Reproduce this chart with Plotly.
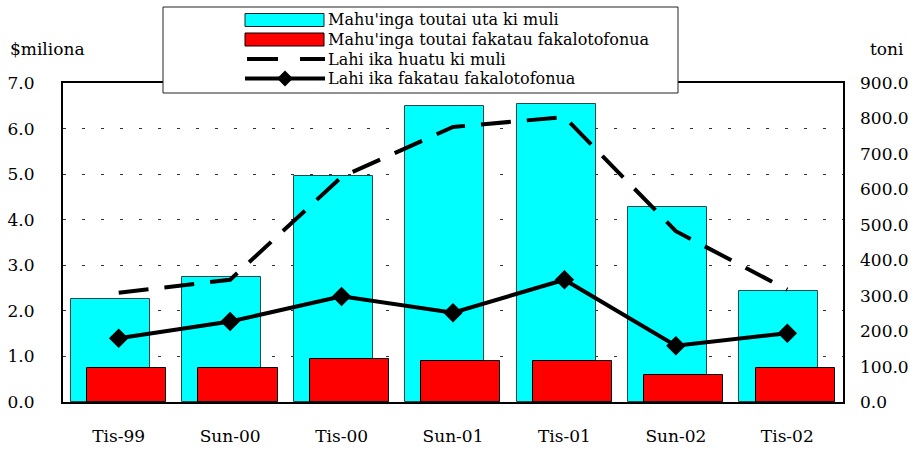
import plotly.graph_objects as go

categories = ["Tis-99", "Sun-00", "Tis-00", "Sun-01", "Tis-01", "Sun-02", "Tis-02"]
uta_ki_muli = [2.26, 2.74, 4.96, 6.50, 6.55, 4.28, 2.43]
fakatau_fakalotofonua = [0.75, 0.74, 0.94, 0.90, 0.89, 0.60, 0.75]
lahi_huatu = [308, 345, 635, 776, 804, 482, 317]
lahi_fakatau = [180, 227, 298, 252, 345, 159, 194]

legend_names = ["Mahu'inga toutai uta ki muli", "Mahu'inga toutai fakatau fakalotofonua",
                "Lahi ika huatu ki muli", "Lahi ika fakatau fakalotofonua"]
left_ticks = [0, 1, 2, 3, 4, 5, 6, 7]
right_ticks = [0, 100, 200, 300, 400, 500, 600, 700, 800, 900]

FONT = "DejaVu Serif, Liberation Serif, serif"
TICK = 17
W, H = 909, 451
ML, MR, MT, MB = 63, 66, 83, 49
PW, PH = W - ML - MR, H - MT - MB

fig = go.Figure()
fig.add_bar(x=categories, y=uta_ki_muli, name=legend_names[0], width=0.71, offset=-0.43,
            marker=dict(color="#00FFFF", line=dict(color="#2a4a4a", width=1)), yaxis="y")
fig.add_bar(x=categories, y=fakatau_fakalotofonua, name=legend_names[1], width=0.71, offset=-0.285,
            marker=dict(color="#FF0000", line=dict(color="#000000", width=1)), yaxis="y")
fig.add_scatter(x=categories, y=lahi_huatu, name=legend_names[2], mode="lines",
                line=dict(color="black", width=4, dash="30px,16px"), yaxis="y2")
fig.add_scatter(x=categories, y=lahi_fakatau, name=legend_names[3], mode="lines+markers",
                line=dict(color="black", width=4),
                marker=dict(symbol="diamond", size=15, color="black"), yaxis="y2")


def px(x):
    return (x - ML) / PW


def py(y):
    return (H - MB - y) / PH


shapes = []
annotations = []
# legend box
shapes.append(dict(type="rect", xref="paper", yref="paper", x0=px(163), x1=px(678), y0=py(93), y1=py(7),
                   fillcolor="white", line=dict(color="#222", width=1), layer="above"))
rows = [20, 39.5, 59, 78.5]
shapes.append(dict(type="rect", xref="paper", yref="paper", x0=px(245), x1=px(324), y0=py(rows[0] + 6.5),
                   y1=py(rows[0] - 6.5), fillcolor="#00FFFF", line=dict(color="#222", width=1), layer="above"))
shapes.append(dict(type="rect", xref="paper", yref="paper", x0=px(245), x1=px(324), y0=py(rows[1] + 6.5),
                   y1=py(rows[1] - 6.5), fillcolor="#FF0000", line=dict(color="#000", width=1), layer="above"))
for a, b in [(247, 278), (300, 325)]:
    shapes.append(dict(type="line", xref="paper", yref="paper", x0=px(a), x1=px(b), y0=py(rows[2]), y1=py(rows[2]),
                       line=dict(color="black", width=4), layer="above"))
shapes.append(dict(type="line", xref="paper", yref="paper", x0=px(245), x1=px(325), y0=py(rows[3]), y1=py(rows[3]),
                   line=dict(color="black", width=4), layer="above"))
shapes.append(dict(type="path", xref="paper", yref="paper",
                   path="M {} {} L {} {} L {} {} L {} {} Z".format(px(285), py(rows[3] - 8), px(293), py(rows[3]),
                                                                  px(285), py(rows[3] + 8), px(277), py(rows[3])),
                   fillcolor="black", line=dict(color="black", width=0), layer="above"))
for r, name in zip(rows, legend_names):
    annotations.append(dict(text=name, xref="paper", yref="paper", x=px(326), y=py(r), xanchor="left",
                            yanchor="middle", showarrow=False, font=dict(family=FONT, size=16, color="black")))

annotations.append(dict(text="$miliona", xref="paper", yref="paper", x=px(8), y=py(49), xanchor="left",
                        yanchor="middle", showarrow=False, font=dict(family=FONT, size=TICK, color="black")))
annotations.append(dict(text="toni", xref="paper", yref="paper", x=px(906), y=py(49), xanchor="right",
                        yanchor="middle", showarrow=False, font=dict(family=FONT, size=TICK, color="black")))

fig.update_layout(
    width=W, height=H, margin=dict(l=ML, r=MR, t=MT, b=MB),
    paper_bgcolor="white", plot_bgcolor="white", showlegend=False,
    barmode="overlay", bargap=0,
    font=dict(family=FONT, size=TICK, color="black"),
    xaxis=dict(showline=True, linecolor="black", linewidth=2, mirror=True, showgrid=False, automargin=False,
               ticks="", ticklabelstandoff=18, tickfont=dict(family=FONT, size=TICK)),
    yaxis=dict(range=[0, 7], tickvals=left_ticks, ticktext=[f"{v:.1f}" for v in left_ticks],
               showline=True, linecolor="black", linewidth=2, mirror=True, automargin=False,
               showgrid=True, gridcolor="#333", gridwidth=1, griddash="3px,16px",
               zeroline=False, ticks="", ticklabelstandoff=23, tickfont=dict(family=FONT, size=TICK)),
    yaxis2=dict(range=[0, 900], tickvals=right_ticks, ticktext=[f"{v:.1f}" for v in right_ticks],
                overlaying="y", side="right", showgrid=False, zeroline=False, showline=False, automargin=False,
                ticks="", ticklabelstandoff=16, tickfont=dict(family=FONT, size=TICK)),
    shapes=shapes, annotations=annotations,
)

fig.write_html("out.html", config={"displayModeBar": False},
               post_script="document.body.style.margin='0';document.body.style.padding='0';")
